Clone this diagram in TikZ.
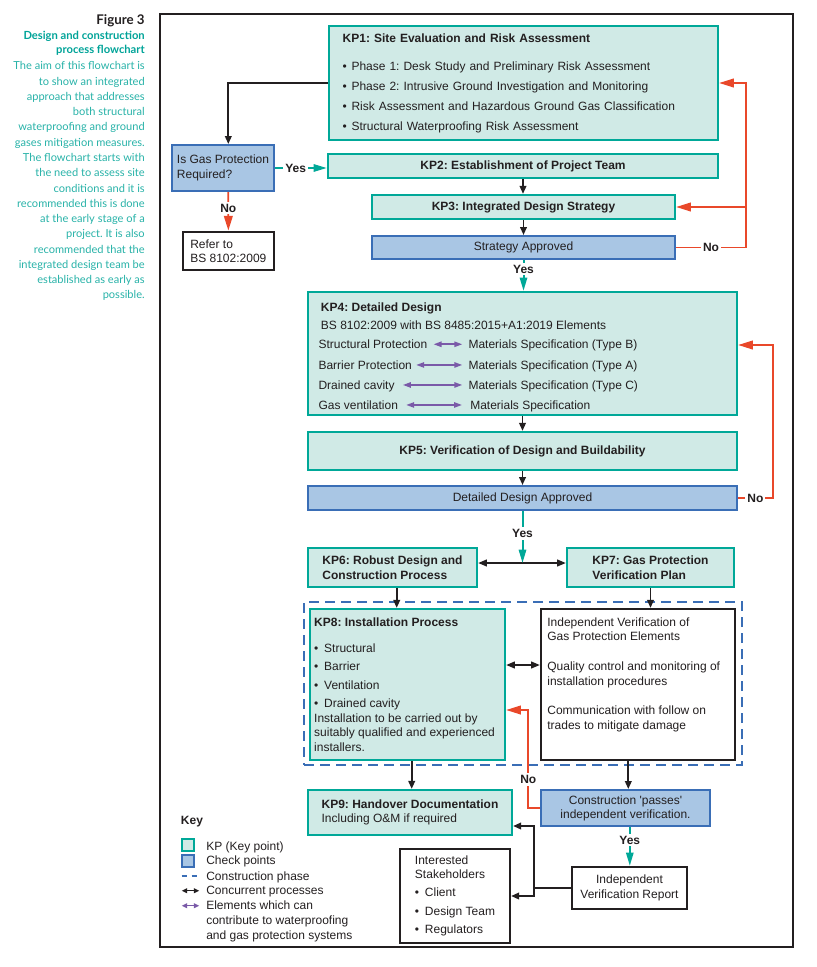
\documentclass[tikz,border=0pt]{standalone}
\usepackage{fontspec}
\setmainfont{Liberation Sans}
\newfontfamily\capfont{Lato}
\usetikzlibrary{arrows.meta,fit,calc}
\definecolor{tealb}{RGB}{0,168,152}
\definecolor{tealf}{RGB}{208,234,230}
\definecolor{blueb}{RGB}{58,110,182}
\definecolor{bluef}{RGB}{169,198,228}
\definecolor{redc}{RGB}{233,72,42}
\definecolor{purp}{RGB}{122,90,168}
\definecolor{blk}{RGB}{35,31,32}
\definecolor{capteal}{RGB}{0,163,152}
\definecolor{bodyteal}{RGB}{40,178,168}
\newcommand\bul{\makebox[6.6pt][l]{\textbullet}}
\newcommand\bulw{\makebox[7.5pt][l]{\textbullet}}
\newcommand\fn{\fontsize{9}{11.25}\selectfont}
\frenchspacing
\tikzset{
  spanbox/.style n args={4}{at={({(#1+#3)/2},{(#2+#4)/2})}, minimum width={(#3-#1)*0.75pt}, minimum height={(#4-#2)*0.75pt}},
  kp/.style={draw=tealb, fill=tealf, line width=1.7pt, inner sep=0pt},
  chk/.style={draw=blueb, fill=bluef, line width=1.5pt, inner sep=0pt},
  wbox/.style={draw=blk, fill=white, line width=1.7pt, inner sep=0pt},
  blkline/.style={draw=blk, line width=1.3pt},
  blkarrow/.style={draw=blk, line width=1.3pt, -{Triangle[length=6pt,width=5pt]}},
  blkdbl/.style={draw=blk, line width=1.3pt, {Triangle[length=6.5pt,width=5pt]}-{Triangle[length=6.5pt,width=5pt]}},
  redarrow/.style={draw=redc, line width=1.3pt, -{Triangle[length=11pt,width=6.5pt]}},
  tealarrow/.style={draw=tealb, line width=1.5pt, -{Triangle[length=10pt,width=5.5pt]}},
  purpdbl/.style={draw=purp, line width=1.2pt, {Triangle[length=6pt,width=4pt]}-{Triangle[length=6pt,width=4pt]}},
  lbl/.style={font=\fn\bfseries, fill=white, inner sep=1.5pt},
  txt/.style={anchor=base west, inner sep=0pt},
  rowtxt/.style={anchor=base west, inner sep=0pt, text height=6.5pt, text depth=0pt},
}
\begin{document}
\begin{tikzpicture}[x=0.75pt,y=-0.75pt, every node/.style={font=\fn, text=blk}]
\useasboundingbox (0,0) rectangle (817,967);

% outer frame
\node[draw=blk, line width=1.6pt, inner sep=0pt, spanbox={160}{14}{793}{947}] (frame) {};

% caption
\node[anchor=base east, inner sep=0pt, font=\capfont\fontsize{10}{12}\selectfont\bfseries, text=blk] (fig) at (145,24.5) {Figure 3};
\node[anchor=north east, align=right, inner sep=0pt, font=\capfont\fontsize{8.4}{10.5}\selectfont\bfseries, text=capteal] (ctitle) at (145,31) {Design and construction\\process flowchart};
\node[anchor=north east, align=right, inner sep=0pt, font=\capfont\fontsize{8.3}{11.45}\selectfont, text=bodyteal] (cbody) at (145,61.5) {The aim of this flowchart is\\to show an integrated\\approach that addresses\\both structural\\waterproofing and ground\\gases mitigation measures.\\The flowchart starts with\\the need to assess site\\conditions and it is\\recommended this is done\\at the early stage of a\\project. It is also\\recommended that the\\integrated design team be\\established as early as\\possible.};

% construction phase (dashed)
\node[draw=blueb, line width=1.3pt, dash pattern=on 7.5pt off 4.5pt, inner sep=0pt, spanbox={304}{602}{742}{765}] (constr) {};

% boxes
\node[kp, spanbox={329}{26}{718}{140}, text width=271.2pt, align=left, font=\fontsize{9}{15}\selectfont] (kp1) {\textbf{KP1: Site Evaluation and Risk Assessment}\\[6pt]\bul Phase 1: Desk Study and Preliminary Risk Assessment\\\bul Phase 2: Intrusive Ground Investigation and Monitoring\\\bul Risk Assessment and Hazardous Ground Gas Classification\\\bul Structural Waterproofing Risk Assessment};

\node[chk, spanbox={172}{145}{274}{191}, align=left] (gas) {Is Gas Protection\\Required?};
\node[wbox, spanbox={182.7}{231.7}{274}{270}, align=left, font=\fontsize{9}{10.5}\selectfont] (refer) {Refer to\\BS 8102:2009};

\node[kp, spanbox={328}{154}{718}{178}, font=\fn\bfseries] (kp2) {KP2: Establishment of Project Team};
\node[kp, spanbox={372}{195}{675}{219}, font=\fn\bfseries] (kp3) {KP3: Integrated Design Strategy};
\node[chk, spanbox={372}{236}{675}{259}] (strat) {Strategy Approved};

\node[kp, spanbox={308}{292}{737}{415}] (kp4) {};
\node[txt, font=\fn\bfseries] (kp4t) at (320.7,311) {KP4: Detailed Design};
\node[txt] (kp4s) at (320.7,329) {BS 8102:2009 with BS 8485:2015+A1:2019 Elements};
\node[rowtxt] (sl1) at (318.3,348.6) {Structural Protection};
\node[rowtxt] (sl2) at (318.3,369.3) {Barrier Protection};
\node[rowtxt] (sl3) at (318.3,389.3) {Drained cavity};
\node[rowtxt] (sl4) at (318.3,409.3) {Gas ventilation};
\node[rowtxt] (sr1) at (468.3,348.6) {Materials Specification (Type B)};
\node[rowtxt] (sr2) at (468.3,369.3) {Materials Specification (Type A)};
\node[rowtxt] (sr3) at (468.3,389.3) {Materials Specification (Type C)};
\node[rowtxt] (sr4) at (470,409.3) {Materials Specification};
\draw[purpdbl] ([xshift=4.5pt]sl1.east) -- ([xshift=-4.5pt]sr1.west);
\draw[purpdbl] ([xshift=3pt]sl2.east) -- ([xshift=-4.5pt]sr2.west);
\draw[purpdbl] ([xshift=6pt]sl3.east) -- ([xshift=-4.5pt]sr3.west);
\draw[purpdbl] ([xshift=6pt]sl4.east) -- ([xshift=-6pt]sr4.west);

\node[kp, spanbox={308}{432}{737}{470}, font=\fn\bfseries] (kp5) {KP5: Verification of Design and Buildability};
\node[chk, spanbox={308}{486}{737}{510}] (dda) {Detailed Design Approved};

\node[kp, spanbox={308}{548}{477}{587}, align=left, font=\fn\bfseries] (kp6) {KP6: Robust Design and\\Construction Process};
\node[kp, spanbox={567}{548}{734}{587}, align=left, font=\fn\bfseries] (kp7) {KP7: Gas Protection\\Verification Plan};

\node[kp, spanbox={310}{609}{505}{760}] (kp8) {\parbox[c][100.8pt][t]{140pt}{\raggedright\fontsize{9}{11}\selectfont\textbf{KP8: Installation Process}\\[8.5pt]\bulw Structural\\[2.9pt]\bulw Barrier\\[2.9pt]\bulw Ventilation\\[2.9pt]\bulw Drained cavity\\Installation to be carried out by\\suitably qualified and experienced\\installers.}};
\node[wbox, spanbox={541}{609}{735}{760}] (ver) {\parbox[c][100.8pt][t]{136pt}{\raggedright\fontsize{9}{11.1}\selectfont Independent Verification of\\Gas Protection Elements\\[11.1pt]Quality control and monitoring of\\installation procedures\\[11.1pt]Communication with follow on\\trades to mitigate damage}};

\node[kp, spanbox={308}{790}{512}{835}, align=left, font=\fontsize{9}{11}\selectfont] (kp9) {\textbf{KP9: Handover Documentation}\\Including O\&M if required};
\node[chk, spanbox={541}{790}{710}{826}, align=center, font=\fontsize{9}{10.5}\selectfont] (cons) {Construction \textquotesingle passes\textquotesingle\\independent verification.};
\node[wbox, spanbox={572}{867}{687}{909}, align=center] (ivr) {Independent\\Verification Report};
\node[wbox, spanbox={400}{849}{510}{943}, align=left, font=\fontsize{9}{10.5}\selectfont] (stake) {Interested\\Stakeholders\\[3.4pt]\bulw Client\\[3.4pt]\bulw Design Team\\[3.4pt]\bulw Regulators};

% connectors
\coordinate (gx) at (228.3,0);
\draw[blkarrow] (kp1.west) -| (gx |- gas.north);
\draw[tealarrow] (gas.east) -- node[lbl, pos=0.4]{Yes} (gas.east -| kp2.west);
\draw[redarrow] (gx |- gas.south) -- node[lbl, pos=0.42]{No} (refer.north);
\draw[blkarrow] (kp2.south) -- (kp2.south |- kp3.north);
\draw[blkarrow] (kp3.south) -- (kp3.south |- strat.north);
\draw[tealarrow] (strat.south) -- node[lbl, pos=0.3]{Yes} (strat.south |- kp4.north);
\coordinate (rx1) at (746,0);
\draw[redarrow] (strat.east) -- node[lbl]{No} (strat.east -| rx1) |- (kp1.east);
\draw[redarrow] (kp3.east -| rx1) -- (kp3.east);

\draw[blkarrow] (kp4.south) -- (kp4.south |- kp5.north);
\draw[blkarrow] (kp5.south) -- (kp5.south |- dda.north);
\coordinate (rx2) at (772.7,0);
\coordinate (ry2) at (0,345);
\draw[redarrow] (dda.east) -- node[lbl]{No} (dda.east -| rx2) |- (kp4.east |- ry2);

\coordinate (jn) at (522.5,563);
\draw[blkdbl] (kp6.east |- jn) -- (kp7.west |- jn);
\draw[tealarrow] (dda.south) -- node[lbl, pos=0.43]{Yes} (jn);

\coordinate (k6x) at (396.7,0);
\draw[blkarrow] (k6x |- kp6.south) -- (k6x |- kp8.north);
\draw[blkarrow] (kp7.south) -- (kp7.south |- ver.north);
\coordinate (y8) at (0,665);
\draw[blkdbl] (kp8.east |- y8) -- (ver.west |- y8);
\coordinate (vx) at (628.3,0);
\draw[blkarrow] (vx |- ver.south) -- (vx |- cons.north);
\coordinate (k9x) at (411.7,0);
\draw[blkarrow] (k9x |- kp8.south) -- (k9x |- kp9.north);
\coordinate (nx) at (528.3,710);
\draw[redarrow] (cons.west) -- (cons.west -| nx) -- node[lbl, pos=0.29]{No} (nx) -- (nx -| kp8.east);
\coordinate (ix) at (629.8,0);
\draw[tealarrow] (ix |- cons.south) -- node[lbl, pos=0.34]{Yes} (ix |- ivr.north);
\coordinate (sx) at (534,826);
\draw[blkline] (ivr.west) -- (ivr.west -| sx);
\draw[blkarrow] (ivr.west -| sx) |- (kp9.east |- sx);
\draw[blkarrow] (ivr.west -| sx) |- (stake.east);

% key
\node[txt, font=\fn\bfseries] (keyt) at (180.7,824) {Key};
\node[kp, line width=1.5pt, spanbox={182}{839}{194}{851}] (k1) {};
\node[chk, line width=1.5pt, spanbox={182}{855}{194}{866.5}] (k2) {};
\coordinate (k3a) at (181.7,876);
\coordinate (k3b) at (200,876);
\draw[draw=blueb, line width=1.3pt, dash pattern=on 4pt off 3.5pt] (k3a) -- (k3b);
\coordinate (k4a) at (181.7,890.7);
\coordinate (k4b) at (199.3,890.7);
\draw[draw=blk, line width=1pt, {Triangle[length=4pt,width=3.5pt]}-{Triangle[length=4pt,width=3.5pt]}] (k4a) -- (k4b);
\coordinate (k5a) at (181.7,905.7);
\coordinate (k5b) at (199.3,905.7);
\draw[draw=purp, line width=1pt, {Triangle[length=4pt,width=3.5pt]}-{Triangle[length=4pt,width=3.5pt]}] (k5a) -- (k5b);
\node[txt] (k1t) at (206,850.7) {KP (Key point)};
\node[txt] (k2t) at (206,864.7) {Check points};
\node[txt] (k3t) at (206,880) {Construction phase};
\node[txt] (k4t) at (206,894.7) {Concurrent processes};
\node[txt] (k5t) at (206,909.7) {Elements which can};
\node[txt] (k5u) at (206,924) {contribute to waterproofing};
\node[txt] (k5v) at (206,939) {and gas protection systems};
\end{tikzpicture}
\end{document}
